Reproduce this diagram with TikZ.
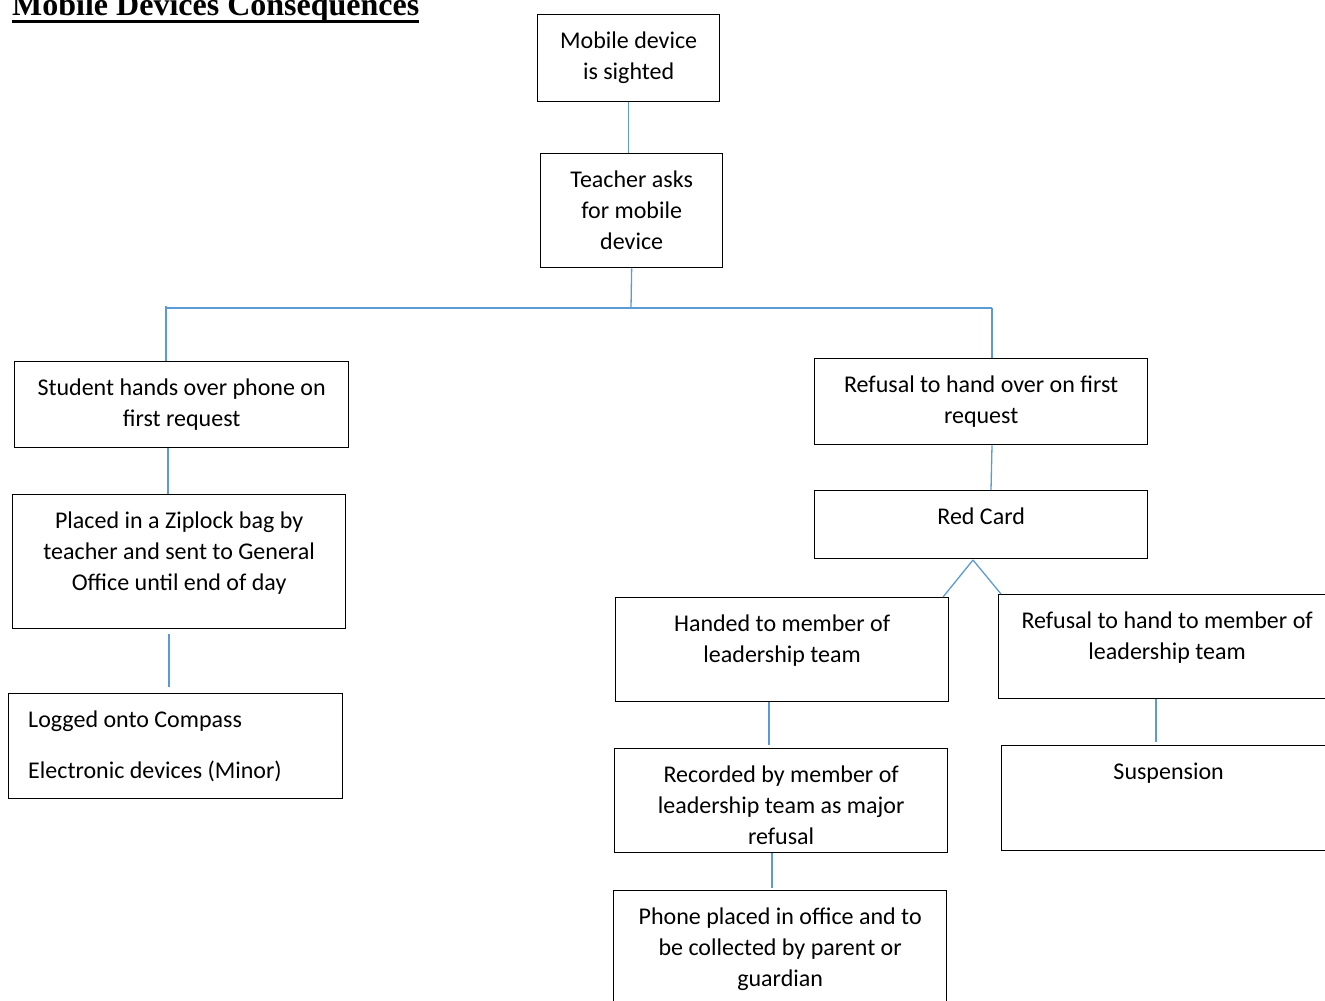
\documentclass[tikz,border=0pt]{standalone}
\usepackage{fontspec}
\setmainfont{Carlito}
\newfontfamily\titlefont{Liberation Serif}
\definecolor{linkblue}{RGB}{91,155,213}
\newcommand{\bodyfont}{\fontsize{24}{31}\selectfont}
\tikzset{
  box/.style={draw=black, line width=1.3pt, inner sep=0pt, anchor=north west},
  txt/.style={inner sep=0pt, anchor=north, align=center, font=\bodyfont},
  conn/.style={draw=linkblue, line width=1.3pt},
}
\begin{document}
\begin{tikzpicture}[x=1pt,y=-1pt]
\useasboundingbox (0,0) rectangle (1325,1001);
% title
\node[inner sep=0pt, anchor=base west] (title) at (12,16)
  {\fontsize{32}{36}\selectfont\titlefont\bfseries\setbox0\hbox{Mobile Devices Consequences}\rlap{\rule[-7pt]{\wd0}{3pt}}\box0};
% boxes
\node[box, minimum width=182pt, minimum height=87pt]  (b1)  at (537,14)  {};
\node[box, minimum width=182pt, minimum height=114pt] (b2)  at (540,153) {};
\node[box, minimum width=334pt, minimum height=86pt]  (b3)  at (14,361)  {};
\node[box, minimum width=333pt, minimum height=86pt]  (b4)  at (814,358) {};
\node[box, minimum width=333pt, minimum height=134pt] (b5)  at (12,494)  {};
\node[box, minimum width=333pt, minimum height=68pt]  (b6)  at (814,490) {};
\node[box, minimum width=334pt, minimum height=105pt] (b7)  at (8,693)   {};
\node[box, minimum width=333pt, minimum height=104pt] (b8)  at (615,597) {};
\node[box, minimum width=337pt, minimum height=104pt] (b9)  at (998,594) {};
\node[box, minimum width=333pt, minimum height=104pt] (b10) at (614,748) {};
\node[box, minimum width=334pt, minimum height=105pt] (b11) at (1001,745) {};
\node[box, minimum width=333pt, minimum height=130pt] (b12) at (613,890) {};
% texts
\node[txt] (t1)  at ([yshift=-12.3pt]b1.north)  {\strut Mobile device\\is sighted};
\node[txt] (t2)  at ([yshift=-12.3pt]b2.north)  {\strut Teacher asks\\for mobile\\device};
\node[txt] (t3)  at ([yshift=-12.3pt]b3.north)  {\strut Student hands over phone on\\first request};
\node[txt] (t4)  at ([yshift=-12.3pt]b4.north)  {\strut Refusal to hand over on first\\request};
\node[txt] (t5)  at ([yshift=-12.3pt]b5.north)  {\strut Placed in a Ziplock bag by\\teacher and sent to General\\Office until end of day};
\node[txt] (t6)  at ([yshift=-12.3pt]b6.north)  {\strut Red Card};
\node[txt, anchor=base west] (t7a) at (28,727) {Logged onto Compass};
\node[txt, anchor=base west] (t7b) at (28,778) {Electronic devices (Minor)};
\node[txt] (t8)  at ([yshift=-12.3pt]b8.north)  {\strut Handed to member of\\leadership team};
\node[txt] (t9)  at ([yshift=-12.3pt]b9.north)  {\strut Refusal to hand to member of\\leadership team};
\node[txt] (t10) at ([yshift=-12.3pt]b10.north) {\strut Recorded by member of\\leadership team as major\\refusal};
\node[txt] (t11) at ([yshift=-12.3pt]b11.north) {\strut Suspension};
\node[txt] (t12) at ([yshift=-12.3pt]b12.north) {\strut Phone placed in office and to\\be collected by parent or\\guardian};
% connectors
\coordinate (hub) at (631,308);
\coordinate (hl) at (166,308);
\coordinate (hr) at (992,308);
\coordinate (apex) at (973,560);
\draw[conn] (b1.south) -- (b1.south |- b2.north);
\draw[conn] (b2.south) -- (hub);
\draw[conn] (hl) -- (hr);
\draw[conn] ([yshift=2pt]hl) -- (hl |- b3.north);
\draw[conn] (hr) -- (hr |- b4.north);
\draw[conn] ([xshift=154pt]b3.south west) -- ([xshift=156pt]b5.north west);
\draw[conn] ([xshift=157pt,yshift=-5pt]b5.south west) -- ([xshift=161pt,yshift=6pt]b7.north west);
\draw[conn] ([xshift=178pt]b4.south west) -- ([xshift=177pt]b6.north west);
\draw[conn] (apex) -- ([xshift=328pt]b8.north west);
\draw[conn] (apex) -- ([xshift=3pt]b9.north west);
\draw[conn] ([xshift=154pt]b8.south west) -- ([xshift=155pt,yshift=3pt]b10.north west);
\draw[conn] ([xshift=158pt]b10.south west) -- ([xshift=159pt,yshift=2pt]b12.north west);
\draw[conn] ([xshift=158pt]b9.south west) -- ([xshift=155pt,yshift=3pt]b11.north west);
\end{tikzpicture}
\end{document}
